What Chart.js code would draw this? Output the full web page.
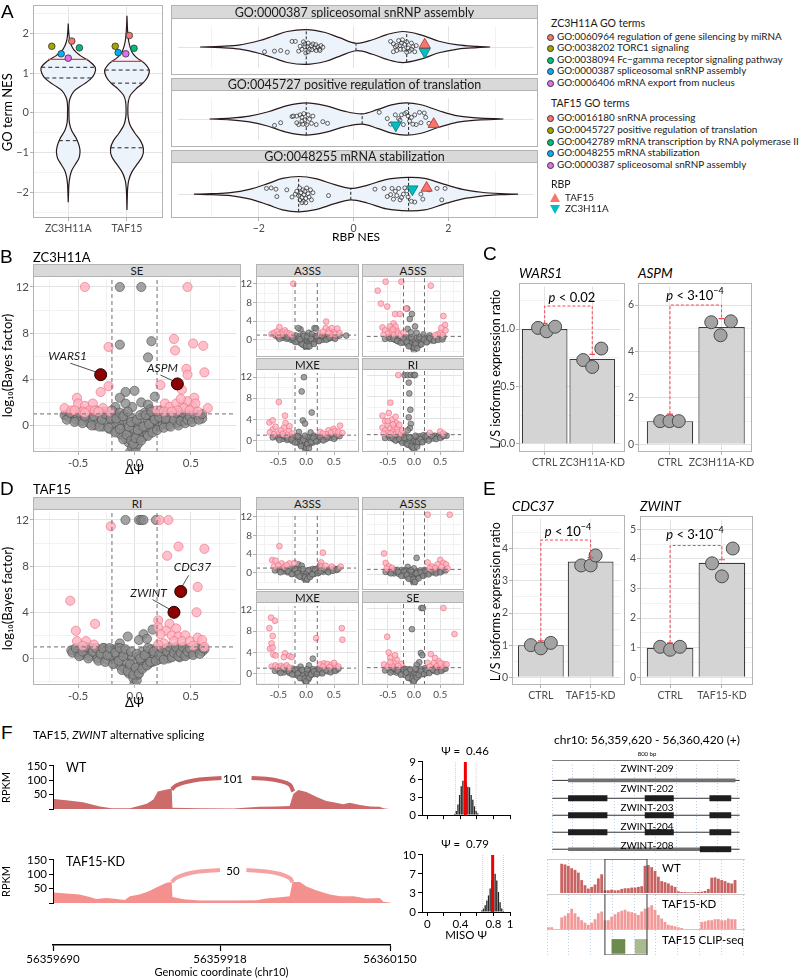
<!DOCTYPE html>
<html>
<head>
<meta charset="utf-8">
<script src="https://cdn.jsdelivr.net/npm/chart.js@4.4.1/dist/chart.umd.min.js"></script>
<style>
  body { margin: 0; background: #fff; font-family: Lato, 'DejaVu Sans', sans-serif; }
  #page { position: relative; width: 800px; height: 980px; overflow: hidden; background: #fff; }
  .txt { position: absolute; white-space: nowrap; line-height: 1; color: #1a1a1a; }
  .strip { position: absolute; box-sizing: border-box; background: #D9D9D9; border: 1px solid #B3B3B3; color: #1a1a1a; font-size: 11px; display: flex; align-items: center; justify-content: center; }
  .frame { position: absolute; box-sizing: border-box; border: 1px solid #B3B3B3; pointer-events: none; }
  .letter { position: absolute; font-family: 'Liberation Sans', Arial, sans-serif; font-size: 19px; line-height: 1; color: #000; }
  .tri { position: absolute; width: 0; height: 0; border-left: 5px solid transparent; border-right: 5px solid transparent; }
</style>
</head>
<body>
<div id="page"></div>
<script>
// ---------- Panel A: GO term NES ----------
const rbpNames = ['ZC3H11A', 'TAF15'];
const goColors = ['#F8766D', '#A3A500', '#00BF7D', '#00B0F6', '#E76BF3'];
const zcGoTerms = ['GO:0060964 regulation of gene silencing by miRNA', 'GO:0038202 TORC1 signaling', 'GO:0038094 Fc\u2212gamma receptor signaling pathway', 'GO:0000387 spliceosomal snRNP assembly', 'GO:0006406 mRNA export from nucleus'];
const tafGoTerms = ['GO:0016180 snRNA processing', 'GO:0045727 positive regulation of translation', 'GO:0042789 mRNA transcription by RNA polymerase II', 'GO:0048255 mRNA stabilization', 'GO:0000387 spliceosomal snRNP assembly'];

const zcViolinNes = [2.25, 2.0, 1.8, 1.6, 1.45, 1.3, 1.15, 1.0, 0.85, 0.7, 0.55, 0.4, 0.25, 0.0, -0.25, -0.45, -0.65, -0.85, -1.0, -1.15, -1.3, -1.45, -1.6, -1.8, -2.0, -2.25];
const zcViolinHalf = [0, 0.01, 0.03, 0.09, 0.2, 0.36, 0.46, 0.45, 0.38, 0.24, 0.1, 0.04, 0.015, 0.012, 0.02, 0.06, 0.14, 0.19, 0.2, 0.18, 0.12, 0.06, 0.03, 0.012, 0.006, 0];
const tafViolinNes = [2.45, 2.1, 1.8, 1.55, 1.4, 1.25, 1.07, 0.9, 0.75, 0.6, 0.45, 0.3, 0.1, -0.1, -0.3, -0.5, -0.7, -0.9, -1.1, -1.3, -1.5, -1.7, -1.9, -2.1, -2.45];
const tafViolinHalf = [0, 0.01, 0.03, 0.08, 0.16, 0.3, 0.38, 0.35, 0.27, 0.15, 0.06, 0.025, 0.015, 0.02, 0.05, 0.13, 0.23, 0.28, 0.26, 0.17, 0.08, 0.03, 0.012, 0.006, 0];
const zcQuantiles = [[1.15, 0.46], [0.88, 0.39], [-0.7, 0.16]];
const tafQuantiles = [[1.08, 0.38], [0.75, 0.27], [-0.88, 0.28]];
const zcRbpNes = [1.35, 0.34];
const tafRbpNes = [1.3, 0.27];
const zcGoNes = [1.81, 1.68, 1.64, 1.49, 1.38];
const zcGoJitter = [1.06, 0.72, 1.19, 0.88, 1.0];
const tafGoNes = [1.95, 1.68, 1.63, 1.52, 1.49];
const tafGoJitter = [2.04, 1.8, 2.12, 1.85, 1.98];

const facetTitles = ['GO:0000387 spliceosomal snRNP assembly', 'GO:0045727 positive regulation of translation', 'GO:0048255 mRNA stabilization'];
const facetNes = [
  [-3.24, -2.8, -2.4, -2.0, -1.7, -1.4, -1.0, -0.6, -0.3, 0.06, 0.4, 0.7, 1.04, 1.4, 1.8, 2.2, 2.6, 2.88],
  [-3.04, -2.6, -2.2, -1.8, -1.4, -1.0, -0.6, -0.2, 0.18, 0.5, 0.8, 1.1, 1.4, 1.8, 2.2, 2.6, 3.16],
  [-3.37, -3.0, -2.6, -2.2, -1.8, -1.5, -1.15, -0.8, -0.4, -0.06, 0.3, 0.7, 1.15, 1.5, 1.9, 2.3, 2.7, 3.1, 3.47]
];
const facetHalf = [
  [0, 0.03, 0.1, 0.3, 0.52, 0.75, 0.84, 0.7, 0.45, 0.18, 0.35, 0.6, 0.75, 0.6, 0.28, 0.1, 0.03, 0],
  [0, 0.04, 0.14, 0.35, 0.65, 0.78, 0.65, 0.38, 0.25, 0.45, 0.68, 0.78, 0.7, 0.4, 0.15, 0.05, 0],
  [0, 0.02, 0.06, 0.2, 0.45, 0.66, 0.74, 0.65, 0.4, 0.24, 0.38, 0.62, 0.7, 0.66, 0.42, 0.2, 0.08, 0.02, 0]
];
const facetMedians = [
  [[-1.0, 0.84], [0.05, 0.18], [1.12, 0.73]],
  [[-1.0, 0.78], [0.18, 0.25], [1.16, 0.77]],
  [[-1.16, 0.74], [-0.06, 0.24], [1.16, 0.7]]
];
const facetTermNes = [
  [-1.88,-0.23, -1.67,-0.2, -1.54,-0.17, -1.40,-0.25, -1.30,0.27, -1.23,0.27, -1.16,-0.2, -1.09,-0.11, -1.06,0.25, -1.03,0.15, -1.01,-0.29, -0.98,0.01, -0.96,-0.23, -0.93,-0.11, -0.89,0.07, -0.86,0.15, -0.82,-0.05, -0.79,-0.17, -0.76,0.01, -0.72,-0.11, -0.69,0.07, -0.65,-0.01, -1.03,0.01, -0.96,0.19, -1.13,0.04, -0.71,-0.17, -0.88,-0.13, -0.80,0.11,
   0.78,0.27, 0.84,0.15, 0.88,0.01, 0.91,-0.17, 0.95,0.31, 0.98,0.07, 1.01,0.19, 1.05,-0.11, 1.08,0.13, 1.12,0.25, 1.15,-0.05, 1.18,-0.2, 1.22,0.19, 1.25,0.01, 1.29,-0.23, 1.32,0.07, 0.91,0.07, 0.99,-0.11, 1.12,-0.25, 1.03,0.35, 0.84,-0.23, 1.22,-0.11],
  [-1.67,-0.31, -1.54,-0.18, -1.30,0.12, -1.27,0.14, -1.20,0.14, -1.16,-0.27, -1.13,0.2, -1.09,0.08, -1.07,-0.25, -1.05,0.26, -1.03,-0.04, -0.99,-0.27, -0.96,0.2, -0.93,-0.01, -0.89,-0.21, -0.86,0.14, -0.79,-0.27, -0.65,-0.13, -0.55,-0.21, -1.20,-0.18, -1.09,-0.1,
   0.54,0.32, 0.71,0.02, 0.88,0.2, 0.91,-0.27, 0.95,0.02, 1.01,0.2, 1.05,-0.27, 1.08,0.26, 1.12,0.32, 1.15,0.14, 1.18,-0.1, 1.22,0.08, 1.29,0.2, 1.32,-0.27, 1.39,0.32, 1.42,-0.18, 1.49,0.29, 1.52,0.08, 1.59,-0.21, 0.78,-0.25, 0.98,-0.06, 1.25,-0.25],
  [-1.84,0.24, -1.74,0.26, -1.64,0.21, -1.62,-0.1, -1.41,0.18, -1.30,-0.12, -1.23,0, -1.20,0.12, -1.16,-0.06, -1.14,0.26, -1.13,-0.24, -1.11,0.06, -1.09,-0.14, -1.07,0.18, -1.06,-0.3, -1.05,-0.02, -1.03,0.12, -1.01,-0.18, -0.99,0.26, -0.96,0.02, -0.94,-0.12, -0.91,0.18, -0.89,-0.24, -0.86,0.06, -0.53,-0.06, -1.09,-0.36, -1.01,-0.36,
   0.45,0.21, 0.64,0.24, 0.71,-0.1, 0.78,-0.02, 0.81,0.24, 0.84,-0.21, 0.91,-0.06, 0.95,0.24, 0.98,-0.24, 1.05,0.0, 1.08,0.26, 1.12,0.14, 1.15,-0.12, 1.22,-0.3, 1.29,-0.33, 1.42,0.0, 1.46,-0.21, 1.59,0.18, 1.76,0.24, 1.86,-0.24, 1.93,0.24, 0.88,0.12, 1.01,-0.14]
];
const facetTafRbp = [[1.5, 0.11], [1.69, -0.25], [1.54, 0.26]];
const facetZcRbp = [[1.5, -0.23], [0.89, -0.3], [1.24, 0.21]];

// ---------- Panels B / D: volcano (dPsi, log10 Bayes factor) ----------
const zcSeGray = [-0.13,12, 0.06,12, -0.13,7.0, 0.15,7.3, 0.12,5.9, 0.0,3.0, -0.08,2.9, -0.13,2.4, 0.06,2.0, 0.18,2.5, -0.02,1.6, -0.08,1.9, 0.12,1.8, -0.17,1.6, 0.14,1.4, 0.55,0.9, 0.6,0.6, -0.6,0.9, 0.0,-2.3, -0.04,-2.3,
  -0.62,0.9, -0.58,0.7, -0.55,1.0, -0.52,0.5, -0.5,0.8, -0.47,0.4, -0.45,1.0, -0.43,0.6, -0.4,0.2, -0.4,0.9, -0.37,0.5, -0.35,0.0, -0.33,1.1, -0.32,0.3, -0.3,0.7, -0.28,-0.1, -0.27,1.2, -0.25,0.4, -0.24,0.9, -0.22,-0.3, -0.2,0.1, -0.19,0.6, -0.18,1.1, -0.16,-0.5, -0.15,0.3, -0.14,0.8, -0.12,-0.8, -0.11,0.0, -0.1,0.5, -0.09,1.0, -0.08,-1.1, -0.07,-0.4, -0.06,0.2, -0.05,-1.5, -0.04,0.7, -0.03,-0.9, -0.02,-1.9, -0.01,-0.3, 0.0,-1.4, 0.0,0.3, 0.01,-2.0, 0.02,-0.8, 0.03,-1.6, 0.04,0.0, 0.05,-1.1, 0.06,0.6, 0.07,-0.5, 0.08,-1.0, 0.09,1.1, 0.1,-0.2, 0.11,-0.8, 0.12,0.4, 0.13,0.9, 0.14,-0.5, 0.16,0.1, 0.17,0.7, 0.18,-0.3, 0.2,0.3, 0.21,1.0, 0.22,-0.1, 0.24,0.6, 0.25,0.1, 0.27,0.9, 0.28,0.3, 0.3,0.0, 0.31,0.6, 0.33,1.1, 0.34,0.3, 0.36,0.8, 0.38,0.2, 0.4,0.6, 0.42,0.9, 0.44,0.4, 0.46,0.7, 0.48,1.0, 0.5,0.5, 0.52,0.8, 0.55,0.6, 0.58,0.9,
  -0.6,0.5, -0.57,1.1, -0.53,0.3, -0.49,1.1, -0.46,0.2, -0.44,0.8, -0.41,1.2, -0.38,0.0, -0.36,0.8, -0.34,1.3, -0.31,-0.1, -0.29,0.5, -0.26,1.0, -0.23,-0.2, -0.21,0.6, -0.2,1.3, -0.17,-0.6, -0.16,0.6, -0.13,-0.3, -0.13,1.1, -0.1,-1.2, -0.1,0.8, -0.07,-0.8, -0.06,1.2, -0.05,-0.1, -0.03,-1.3, -0.03,0.3, -0.01,-1.6, 0.01,-1.1, 0.02,0.5, 0.03,-0.4, 0.05,0.9, 0.06,-1.3, 0.08,-0.1, 0.1,0.9, 0.12,-0.9, 0.13,0.1, 0.15,1.2, 0.16,-0.6, 0.18,0.5, 0.2,-0.4, 0.22,0.7, 0.23,1.3, 0.26,-0.2, 0.28,0.6, 0.29,1.2, 0.32,-0.1, 0.35,0.5, 0.37,1.1, 0.39,0.0, 0.41,0.4, 0.43,1.1, 0.45,0.2, 0.47,0.5, 0.49,0.8, 0.51,0.3, 0.53,1.0, 0.57,0.5, 0.6,1.0];
const zcSePink = [-0.44,12, 0.47,12, -0.23,6.8, 0.35,7.5, 0.36,6.5, 0.52,7.1, 0.61,6.9, 0.46,4.9, 0.62,4.6, 0.47,4.4, 0.23,3.5, 0.42,3.1, -0.23,3.4, -0.3,2.9, -0.51,2.4, 0.53,2.4, -0.62,1.5, -0.56,1.3, -0.5,1.9, -0.44,1.7, -0.37,1.9, -0.46,1.2, -0.4,1.3, -0.35,1.3, 0.2,1.3, 0.27,1.9, 0.31,1.6, 0.37,1.9, 0.43,1.7, 0.47,2.1, 0.52,1.6, 0.54,1.9, 0.65,1.5, 0.44,1.5, 0.38,1.3, 0.26,1.2, -0.53,1.3, -0.22,1.2, -0.44,1.1, -0.28,1.5, -0.32,1.2, 0.49,1.3, 0.56,1.2, 0.41,2.3, 0.33,1.2];
const zcSeHighlight = [-0.3,4.4, 0.38,3.6];
const zcSeLabels = [['WARS1', -0.6, 5.9], ['ASPM', 0.22, 4.9]];
const zcSeLeaders = [[-0.57,5.4, -0.32,4.56], [0.23,4.37, 0.36,3.78]];

const zcA3Gray = [-0.55,0.9, -0.5,0.6, -0.45,0.9, -0.42,0.4, -0.38,0.7, -0.35,0.2, -0.32,0.9, -0.3,0.4, -0.27,0.0, -0.25,0.7, -0.22,-0.2, -0.2,0.3, -0.18,0.9, -0.16,-0.4, -0.14,0.2, -0.12,0.7, -0.1,-0.7, -0.08,-0.1, -0.06,0.5, -0.05,-1.1, -0.03,-0.4, -0.02,0.3, -0.01,-1.5, 0.0,-0.8, 0.01,-1.9, 0.02,-0.2, 0.03,-1.2, 0.04,0.4, 0.05,-0.6, 0.07,0.0, 0.08,-0.9, 0.1,0.6, 0.11,-0.3, 0.13,0.2, 0.15,-0.5, 0.16,0.8, 0.18,0.0, 0.2,0.5, 0.22,-0.2, 0.24,0.9, 0.26,0.2, 0.28,0.6, 0.3,0.0, 0.33,0.8, 0.35,0.3, 0.38,0.6, 0.4,0.2, 0.43,0.8, 0.45,0.4, 0.48,0.9, 0.5,0.5, 0.55,0.8, 0.6,0.9, 0.72,0.9, -0.1,2.2, 0.05,1.5, 0.1,1.2, 0.15,2.5, -0.14,2.5, 0.18,2.4, -0.05,1.2,
  -0.48,0.2, -0.4,1.0, -0.33,0.5, -0.24,0.3, -0.19,-0.5, -0.11,0.1, -0.07,-1.0, -0.04,0.8, 0.0,-1.3, 0.02,0.7, 0.06,-1.4, 0.09,0.2, 0.14,-0.9, 0.19,0.8, 0.23,-0.3, 0.29,0.9, 0.36,0.0, 0.42,0.5, 0.52,0.2];
const zcA3Pink = [-0.62,1.2, -0.57,1.5, -0.52,1.8, -0.48,2.7, -0.45,1.2, -0.42,1.6, -0.38,2.0, -0.35,1.5, -0.3,1.3, -0.26,1.1, -0.5,1.1, -0.23,12, 0.36,3.9, 0.35,2.5, 0.41,2.0, 0.46,2.5, 0.5,1.6, 0.56,2.4, 0.25,1.3, 0.3,1.7, 0.45,1.2, 0.52,1.2, 0.4,1.4, 0.6,1.4];
const zcA5Gray = [-0.04,5.5, -0.13,6.6, -0.08,4.5, 0.02,3.0, -0.12,2.5, -0.06,1.8, 0.05,1.7, -0.5,0.8, -0.45,0.5, -0.4,0.9, -0.36,0.3, -0.33,0.7, -0.3,0.0, -0.27,0.5, -0.24,0.9, -0.21,-0.2, -0.18,0.4, -0.15,0.8, -0.13,-0.5, -0.11,0.1, -0.09,0.6, -0.07,-0.9, -0.05,-0.2, -0.03,0.4, -0.02,-1.3, 0.0,-1.8, 0.01,-0.6, 0.02,0.2, 0.04,-1.0, 0.05,0.7, 0.07,-0.4, 0.09,0.2, 0.11,-0.7, 0.13,0.5, 0.15,-0.2, 0.17,0.9, 0.2,0.1, 0.23,0.6, 0.25,-0.1, 0.28,0.4, 0.31,0.9, 0.33,0.2, 0.36,0.6, 0.39,0.3, 0.42,0.8, 0.45,0.5, 0.48,0.9, 0.52,0.6, 0.56,0.9, 0.3,1.2, 0.18,1.4,
  -0.55,0.5, -0.47,0.9, -0.39,0.5, -0.32,0.1, -0.25,-0.3, -0.2,0.6, -0.14,-0.1, -0.1,-1.0, -0.05,0.8, 0.0,-1.2, 0.03,-0.5, 0.06,-1.4, 0.1,0.8, 0.14,-0.6, 0.19,0.4, 0.24,-0.2, 0.3,0.6, 0.38,0.1, 0.46,0.3, 0.54,0.4];
const zcA5Pink = [-0.54,12, -0.24,12, 0.32,11.2, -0.69,10.2, -0.63,7.6, -0.51,7.0, -0.36,5.5, -0.27,5.5, -0.15,6.6, 0.56,5.1, 0.59,3.3, 0.5,1.7, -0.39,3.6, -0.6,2.8, -0.55,2.2, -0.5,1.6, -0.45,2.5, -0.42,1.9, -0.38,1.4, -0.33,2.2, -0.3,1.6, -0.25,1.3, -0.2,1.8, -0.46,3.0, -0.35,3.0, -0.58,1.3, 0.45,1.4, 0.4,1.2, 0.55,1.3, 0.6,2.2, 0.52,2.7, -0.4,2.4];
const zcMxeGray = [-0.04,12, -0.08,9.3, -0.06,3.8, -0.02,3.2, 0.1,5.3, 0.08,1.5, -0.13,1.6, -0.55,0.8, -0.5,0.5, -0.46,0.9, -0.42,0.3, -0.38,0.7, -0.34,0.1, -0.31,0.6, -0.28,0.9, -0.25,-0.1, -0.22,0.4, -0.19,0.8, -0.16,-0.4, -0.14,0.2, -0.12,0.6, -0.1,-0.8, -0.08,-0.2, -0.06,0.4, -0.04,-1.2, -0.02,-0.5, -0.01,-1.8, 0.0,0.1, 0.01,-1.0, 0.03,-0.3, 0.04,0.6, 0.06,-0.7, 0.08,0.0, 0.1,0.5, 0.12,-0.4, 0.14,0.9, 0.16,0.1, 0.19,0.6, 0.21,-0.1, 0.24,0.4, 0.27,0.9, 0.3,0.2, 0.33,0.6, 0.36,0.3, 0.4,0.8, 0.44,0.5, 0.48,0.8, 0.52,0.6, 0.56,0.9,
  -0.6,0.6, -0.48,0.1, -0.4,0.9, -0.33,0.4, -0.26,0.2, -0.2,-0.4, -0.15,0.8, -0.09,-1.1, -0.05,0.1, -0.02,0.9, 0.0,-1.4, 0.02,-0.7, 0.05,-1.5, 0.09,-0.3, 0.13,0.5, 0.18,-0.2, 0.25,0.7, 0.31,0.0, 0.38,0.6, 0.5,0.3, 0.6,0.8];
const zcMxePink = [-0.49,7.3, -0.66,3.4, -0.6,3.8, -0.38,4.7, -0.37,3.3, -0.4,2.4, -0.6,2.1, -0.49,1.4, -0.31,1.8, -0.25,1.3, -0.35,1.1, -0.55,2.6, -0.45,1.9, -0.42,1.2, -0.65,1.5, -0.58,1.2, -0.3,2.7, 0.4,1.9, 0.49,2.2, 0.61,2.8, 0.25,1.6, 0.55,1.3, 0.36,1.2, 0.3,1.3, 0.45,1.5, 0.52,1.8, 0.58,1.6, 0.65,1.4];
const zcRiGray = [-0.18,12, -0.12,12, -0.06,12, 0.0,12, 0.02,12, -0.1,10.6, -0.09,8.6, -0.07,5.6, -0.1,4.2, -0.06,3.0, -0.08,2.2, -0.12,1.8, -0.5,0.8, -0.46,0.4, -0.42,0.9, -0.39,0.2, -0.36,0.7, -0.33,0.0, -0.3,0.5, -0.27,0.9, -0.24,-0.2, -0.21,0.3, -0.19,0.8, -0.16,-0.5, -0.14,0.1, -0.12,0.6, -0.1,-0.9, -0.08,-0.2, -0.06,0.4, -0.04,-1.3, -0.02,-0.5, 0.0,-1.9, 0.01,0.0, 0.02,-1.0, 0.04,-0.3, 0.05,0.5, 0.07,-0.7, 0.09,0.1, 0.11,0.7, 0.13,-0.3, 0.15,0.3, 0.18,0.9, 0.2,0.0, 0.23,0.5, 0.26,0.9, 0.29,0.2, 0.32,0.6, 0.36,0.3, 0.4,0.8, 0.44,0.5, 0.48,0.9, 0.53,0.6, 0.58,0.9, 0.62,0.8,
  -0.55,0.4, -0.48,0.9, -0.41,0.4, -0.35,-0.1, -0.28,0.2, -0.22,-0.5, -0.18,0.4, -0.13,-0.8, -0.09,0.5, -0.05,-1.1, -0.01,-1.4, 0.03,0.8, 0.06,-1.2, 0.08,-0.3, 0.12,0.2, 0.16,-0.4, 0.22,0.7, 0.28,-0.1, 0.34,0.8, 0.42,0.2, 0.5,0.4, 0.56,0.8];
const zcRiPink = [-0.3,12, -0.45,6.9, -0.33,3.1, -0.6,4.5, -0.55,3.5, -0.5,2.8, -0.6,2.3, -0.55,1.8, -0.5,1.4, -0.45,2.2, -0.42,3.8, -0.4,1.6, -0.38,2.5, -0.35,1.2, -0.32,2.0, -0.3,1.5, -0.28,2.8, -0.25,1.2, -0.22,1.8, -0.45,1.2, -0.58,1.2, -0.5,3.5, -0.4,2.9, -0.35,4.3, -0.48,5.0, 0.5,1.6, 0.56,1.2, 0.3,1.3];

const tafRiGray = [-0.08,12, 0.04,12, 0.06,12, 0.08,12, 0.19,12, 0.16,2.5, -0.06,1.9, 0.08,2.1, -0.56,0.7, -0.5,0.4, 0.0,-2.2, 0.62,0.8, 0.04,1.6, 0.11,1.7, -0.13,1.3,
  -0.5,0.6, -0.47,0.3, -0.45,0.8, -0.42,0.5, -0.4,0.2, -0.38,0.9, -0.35,0.4, -0.33,0.0, -0.31,0.7, -0.29,0.2, -0.27,0.9, -0.25,-0.1, -0.23,0.5, -0.21,0.1, -0.2,0.8, -0.18,-0.4, -0.16,0.3, -0.15,0.9, -0.13,-0.6, -0.12,0.0, -0.1,0.5, -0.09,-0.9, -0.07,-0.3, -0.06,0.3, -0.05,-1.3, -0.03,-0.7, -0.02,0.1, -0.01,-1.7, 0.0,-1.1, 0.01,-0.4, 0.02,-1.9, 0.03,-1.4, 0.04,0.2, 0.05,-0.9, 0.06,-0.3, 0.07,0.6, 0.08,-0.7, 0.1,-0.1, 0.11,0.4, 0.12,-0.5, 0.14,0.1, 0.15,0.8, 0.16,-0.3, 0.18,0.3, 0.2,0.9, 0.21,-0.1, 0.23,0.5, 0.25,0.0, 0.27,0.8, 0.28,0.3, 0.3,0.0, 0.32,0.6, 0.34,0.2, 0.36,0.9, 0.38,0.4, 0.4,0.1, 0.42,0.7, 0.44,0.3, 0.46,0.8, 0.48,0.4, 0.5,0.7, 0.53,0.5, 0.56,0.8, 0.6,0.6,
  -0.55,0.5, -0.52,0.9, -0.49,0.2, -0.46,0.6, -0.43,1.0, -0.41,0.0, -0.37,0.6, -0.34,0.9, -0.32,-0.2, -0.3,0.4, -0.28,0.9, -0.26,-0.3, -0.24,0.3, -0.22,0.9, -0.19,-0.5, -0.17,0.5, -0.14,-0.2, -0.13,0.9, -0.11,-1.0, -0.1,0.2, -0.08,0.8, -0.06,-1.1, -0.04,-0.5, -0.03,0.6, -0.01,-1.4, 0.01,-0.8, 0.02,0.4, 0.04,-1.3, 0.05,0.0, 0.07,-0.9, 0.09,0.3, 0.11,-0.6, 0.12,0.9, 0.14,-0.3, 0.17,0.6, 0.19,-0.2, 0.22,0.3, 0.24,0.9, 0.26,-0.1, 0.29,0.6, 0.31,1.0, 0.33,0.1, 0.35,0.5, 0.37,1.0, 0.39,0.2, 0.41,0.5, 0.43,1.0, 0.45,0.2, 0.47,0.6, 0.49,0.9, 0.52,0.3, 0.55,0.9, 0.58,0.4, 0.61,0.9];
const tafRiPink = [-0.21,11.45, 0.22,12, 0.30,12, 0.39,9.7, 0.29,8.9, 0.62,9.5, 0.56,6.2, 0.55,4.0, -0.57,5.0, -0.35,3.0, -0.52,2.4, -0.51,1.5, -0.43,1.5, -0.46,1.1, -0.36,1.2, 0.21,3.3, 0.21,2.7, 0.31,3.0, 0.28,2.4, 0.37,2.6, 0.23,2.1, 0.33,2.0, 0.39,1.9, 0.45,2.0, 0.26,1.3, 0.35,1.5, 0.42,1.5, 0.49,1.5, 0.56,1.8, 0.6,1.6, 0.52,1.1, 0.21,1.2, 0.62,1.0];
const tafRiHighlight = [0.35,4.0, 0.41,5.8];
const tafRiLabels = [['CDC37', 0.48, 7.8], ['ZWINT', 0.1, 5.6]];
const tafRiLeaders = [[0.48,7.2, 0.42,6.2], [0.16,5.1, 0.33,4.16]];

const tafA3Gray = [-0.14,1.8, -0.08,1.5, 0.25,1.6, -0.52,0.8, -0.48,0.5, -0.44,0.9, -0.4,0.3, -0.36,0.7, -0.33,0.1, -0.3,0.6, -0.27,0.9, -0.24,-0.2, -0.21,0.4, -0.18,0.8, -0.16,-0.5, -0.13,0.1, -0.11,0.6, -0.09,-0.9, -0.07,-0.2, -0.05,0.4, -0.03,-1.3, -0.01,-0.6, 0.0,-1.9, 0.01,0.1, 0.03,-1.0, 0.05,-0.3, 0.06,0.6, 0.08,-0.6, 0.1,0.1, 0.12,0.8, 0.14,-0.3, 0.17,0.4, 0.2,0.9, 0.22,0.0, 0.25,0.5, 0.28,0.9, 0.31,0.2, 0.34,0.6, 0.38,0.3, 0.42,0.8, 0.46,0.5, 0.5,0.9, 0.54,0.6, 0.58,0.9,
  -0.56,0.5, -0.46,0.1, -0.38,0.9, -0.32,0.3, -0.26,-0.3, -0.2,0.7, -0.15,-0.1, -0.12,-0.8, -0.06,0.8, -0.02,-1.0, 0.02,-1.4, 0.04,0.5, 0.07,-0.9, 0.11,-0.3, 0.16,0.7, 0.21,-0.1, 0.26,0.3, 0.32,0.8, 0.4,0.1, 0.48,0.4, 0.56,0.7];
const tafA3Pink = [-0.48,5.7, -0.61,2.7, -0.55,2.6, -0.44,2.0, -0.3,2.0, -0.21,2.1, -0.58,1.3, -0.39,1.3, -0.5,1.5, -0.35,1.6, 0.3,4.3, 0.27,2.2, 0.46,1.3, 0.62,1.3, 0.27,1.3, 0.35,1.5];
const tafA5Gray = [-0.12,1.5, 0.0,1.2, 0.05,3.3, -0.5,0.8, -0.46,0.4, -0.42,0.8, -0.38,0.2, -0.35,0.6, -0.32,0.9, -0.29,0.1, -0.26,0.5, -0.23,0.9, -0.2,-0.2, -0.17,0.4, -0.15,0.8, -0.13,-0.5, -0.11,0.2, -0.09,0.7, -0.07,-0.8, -0.05,-0.1, -0.03,0.5, -0.02,-1.4, 0.0,-1.9, 0.01,-0.5, 0.03,0.2, 0.04,-1.0, 0.06,0.6, 0.08,-0.4, 0.1,0.1, 0.12,0.8, 0.15,-0.2, 0.17,0.4, 0.2,0.9, 0.23,0.1, 0.26,0.6, 0.29,0.3, 0.33,0.8, 0.36,0.4, 0.4,0.9, 0.44,0.5, 0.48,0.8, 0.52,0.6, 0.57,0.9,
  -0.54,0.5, -0.44,0.2, -0.37,0.9, -0.3,0.5, -0.24,-0.3, -0.19,0.7, -0.14,-0.1, -0.1,-0.9, -0.06,0.8, -0.01,-1.0, 0.02,-1.5, 0.05,0.2, 0.09,-0.8, 0.13,0.4, 0.18,-0.3, 0.22,0.7, 0.28,0.0, 0.35,0.6, 0.42,0.2, 0.5,0.4, 0.6,0.8];
const tafA5Pink = [0.26,12, 0.68,12, -0.57,4.2, 0.5,2.9, 0.56,2.3, 0.61,2.0, 0.45,2.0, 0.34,1.6, 0.26,2.4, -0.54,2.3, -0.48,1.6, -0.42,1.3, 0.4,1.3, 0.52,1.5, 0.3,1.2, 0.64,1.2, -0.52,1.2];
const tafMxeGray = [0.12,2.8, 0.05,1.5, -0.1,1.3, -0.52,0.8, -0.48,0.4, -0.44,0.9, -0.4,0.2, -0.36,0.6, -0.33,0.9, -0.3,0.1, -0.27,0.5, -0.24,0.9, -0.21,-0.2, -0.18,0.3, -0.16,0.8, -0.14,-0.5, -0.12,0.1, -0.1,0.6, -0.08,-0.9, -0.06,-0.2, -0.04,0.4, -0.02,-1.4, 0.0,-1.9, 0.01,-0.6, 0.03,0.1, 0.04,-1.1, 0.06,0.5, 0.08,-0.4, 0.1,0.2, 0.12,0.8, 0.15,-0.1, 0.18,0.4, 0.21,0.9, 0.24,0.1, 0.27,0.6, 0.3,0.3, 0.34,0.8, 0.38,0.4, 0.42,0.9, 0.46,0.5, 0.5,0.8, 0.54,0.6,
  -0.56,0.5, -0.46,0.1, -0.38,0.9, -0.31,0.4, -0.25,-0.2, -0.2,0.7, -0.15,0.0, -0.11,-0.9, -0.07,0.7, -0.03,-1.0, 0.0,-1.5, 0.02,0.8, 0.05,-0.8, 0.09,-0.2, 0.14,0.4, 0.19,-0.1, 0.23,0.8, 0.29,0.0, 0.36,0.6, 0.44,0.2, 0.52,0.5, 0.58,0.9];
const tafMxePink = [-0.63,10.6, -0.56,10.0, -0.66,8.6, -0.6,7.1, -0.62,5.7, -0.65,4.7, -0.6,4.9, -0.59,3.6, -0.55,3.4, -0.38,3.8, -0.4,3.1, -0.3,3.3, -0.26,3.1, 0.18,6.7, 0.64,8.6, 0.65,6.4, 0.25,1.7, 0.32,1.9, 0.38,1.8, 0.45,1.6, 0.52,1.5, 0.58,1.3, 0.42,1.2, -0.62,1.3, -0.55,1.5, -0.5,1.2, -0.45,1.4, -0.4,1.2, -0.35,1.5, -0.3,1.1, 0.3,1.3, 0.5,2.0];
const tafSeGray = [0.14,12, 0.17,12, -0.04,8.1, 0.13,3.7, 0.16,3.3, 0.1,2.0, 0.05,1.5, -0.5,0.8, -0.46,0.5, -0.42,0.9, -0.39,0.3, -0.36,0.7, -0.33,0.1, -0.3,0.6, -0.27,0.9, -0.24,-0.1, -0.21,0.4, -0.18,0.8, -0.16,-0.4, -0.14,0.2, -0.12,0.7, -0.1,-0.8, -0.08,-0.2, -0.06,0.4, -0.04,-1.2, -0.02,-0.5, -0.01,-1.8, 0.01,0.1, 0.02,-1.1, 0.04,-0.3, 0.06,0.6, 0.08,-0.6, 0.1,0.1, 0.12,0.8, 0.15,-0.2, 0.18,0.4, 0.21,0.9, 0.24,0.1, 0.27,0.6, 0.3,0.3, 0.34,0.8, 0.38,0.4, 0.42,0.9, 0.46,0.5, 0.5,0.8, 0.54,0.6, 0.58,0.9,
  -0.55,0.5, -0.45,0.1, -0.38,0.9, -0.31,0.4, -0.25,-0.3, -0.2,0.7, -0.15,0.1, -0.11,-0.9, -0.07,0.7, -0.03,-1.0, 0.0,-1.4, 0.03,0.8, 0.05,-0.8, 0.09,-0.3, 0.13,0.4, 0.19,-0.2, 0.23,0.6, 0.29,0.0, 0.36,0.6, 0.44,0.2, 0.52,0.4, 0.6,0.8];
const tafSePink = [0.56,12, 0.77,7.2, -0.51,6.7, -0.48,3.8, -0.45,2.8, -0.33,2.5, -0.39,1.9, -0.24,1.7, -0.57,1.6, -0.3,1.3, -0.5,1.2, -0.42,1.4, -0.36,3.3, 0.32,3.5, 0.26,1.9, 0.38,1.9, 0.47,2.2, 0.56,1.7, 0.62,1.6, 0.44,1.3, 0.3,1.2, 0.52,1.3, 0.4,2.8, -0.45,2.0, 0.5,1.8];

// ---------- Panels C / E: L/S isoform ratio ----------
const wars1Bars = [1.0, 0.74];
const wars1Ctrl = [0.86,1.01, 1.04,0.98, 1.22,1.02];
const wars1Kd = [1.81,0.73, 2.0,0.67, 2.19,0.83];
const wars1Bracket = [1.05, 1.2, 0.78];
const aspmBars = [1.0, 5.05];
const aspmCtrl = [0.81,1.0, 0.99,1.0, 1.17,1.0];
const aspmKd = [1.8,5.26, 1.98,4.7, 2.18,5.3];
const aspmBracket = [1.3, 6.0, 5.42];
const cdc37Bars = [1.0, 3.6];
const cdc37Ctrl = [0.8,1.0, 1.0,0.9, 1.2,1.07];
const cdc37Kd = [1.81,3.48, 2.0,3.48, 2.1,3.79];
const cdc37Bracket = [1.13, 4.27, 3.72];
const zwintBars = [1.0, 3.87];
const zwintCtrl = [0.81,1.03, 1.0,0.93, 1.19,1.03];
const zwintKd = [1.81,3.85, 2.0,3.41, 2.21,4.35];
const zwintBracket = [1.16, 4.45, 3.97];

// ---------- Panel F: ZWINT coverage ----------
const genomicStart = 56359690;
const genomicTicks = [0, 228, 460];
const wtCovPos = [1, 18, 41, 64, 80, 105, 114, 128, 137, 143, 155, 162, 163, 200, 246, 282, 305, 323, 328, 335, 346, 360, 373, 383, 396, 405, 419, 433, 446, 451, 460];
const wtCovVal = [35, 31, 24, 9, 3, 3, 9, 19, 33, 61, 68, 71, 5, 3, 2, 8, 9, 11, 52, 66, 59, 42, 28, 24, 17, 22, 14, 9, 8, 3, 0];
const kdCovPos = [1, 18, 36, 50, 59, 73, 87, 98, 105, 118, 130, 141, 155, 162, 163, 178, 200, 246, 278, 291, 314, 323, 327, 337, 346, 360, 378, 392, 410, 428, 446, 451, 460];
const kdCovVal = [37, 33, 30, 21, 14, 18, 14, 11, 24, 30, 40, 54, 71, 73, 21, 13, 9, 9, 10, 16, 21, 24, 73, 73, 58, 44, 30, 24, 24, 16, 18, 5, 2];
const wtJunctionPos = [162, 168, 182, 200, 230, null, 271, 291, 310, 323, 328];
const wtJunctionVal = [68, 82, 94, 103, 108, null, 108, 105, 97, 85, 61];
const kdJunctionPos = [162, 168, 182, 200, 228, null, 264, 291, 310, 323, 327];
const kdJunctionVal = [73, 87, 101, 110, 115, null, 115, 110, 101, 87, 73];
const junctionReads = ['101', '50'];

const wtPsiBins = [0.33, 0.35, 0.37, 0.39, 0.41, 0.43, 0.45, 0.47, 0.49, 0.51, 0.53, 0.55, 0.57, 0.59, 0.61];
const wtPsiCounts = [0.2, 0.7, 1.8, 3.4, 4.9, 5.8, 5.9, 5.5, 4.8, 4.7, 3.4, 2.6, 1.5, 0.7, 0.3];
const kdPsiBins = [0.64, 0.66, 0.68, 0.70, 0.72, 0.74, 0.76, 0.78, 0.80, 0.82, 0.84, 0.86, 0.88, 0.90, 0.92];
const kdPsiCounts = [0.1, 0.3, 0.6, 1.2, 2.0, 2.9, 4.1, 5.5, 6.6, 6.7, 5.5, 3.5, 1.7, 0.6, 0.2];
const wtPsi = 0.46, wtPsiCI = [0.34, 0.59];
const kdPsi = 0.79, kdPsiCI = [0.67, 0.92];

// genome browser view, bp from 56,359,620
const transcriptNames = ['ZWINT-209', 'ZWINT-202', 'ZWINT-203', 'ZWINT-204', 'ZWINT-208'];
const transcriptCoding = [[], [[69, 234], [396, 517], [672, 762]], [[69, 234], [396, 517], [672, 762]], [[69, 234], [396, 517], [672, 762]], [[631, 762]]];
const transcriptNoncoding = [[[69, 780]], [], [], [], [[69, 631]]];
const trackBinStart = 5.4, trackBinWidth = 13.47;
const wtTrack = [0, 0, 0, 0, 86, 84, 80, 73, 68, 60, 38, 23, 13, 18, 25, 43, 55, 8, 8, 10, 8, 8, 12, 14, 14, 16, 16, 18, 20, 80, 82, 76, 65, 48, 35, 32, 28, 22, 18, 5, 3, 3, 2, 2, 3, 3, 4, 6, 12, 45, 46, 42, 38, 35, 30, 28, 38];
const kdTrack = [5, 5, 0, 0, 33, 38, 45, 58, 45, 35, 25, 18, 12, 18, 28, 45, 50, 25, 25, 35, 42, 48, 52, 55, 50, 48, 45, 40, 50, 58, 62, 68, 55, 40, 30, 20, 12, 10, 8, 5, 3, 0, 0, 0, 0, 0, 20, 22, 25, 25, 28, 28, 25, 25, 30, 28, 28];
const clipPeaks = [[262, 315], [356, 404]];
const clipColors = ['#6E8B4E', '#A8BA90'];
const highlightRegion = [234, 404];

// ======================================================================
Chart.defaults.font.family = "Lato, 'DejaVu Sans', sans-serif";
Chart.defaults.color = '#4D4D4D';
Chart.defaults.animation = false;
Chart.defaults.events = [];

const page = document.getElementById('page');
const GRID_MAJOR = '#E3E3E3', GRID_MINOR = '#F2F2F2', FRAME = '#B3B3B3';
const isMult = step => v => Math.abs(v / step - Math.round(v / step)) < 1e-6;
const P = a => { const r = []; for (let i = 0; i < a.length; i += 2) r.push({ x: a[i], y: a[i + 1] }); return r; };

// place a chart so that its plot area sits on area = [x0, y0, x1, y1]
function chartAt(area, m, cfg) {
  const [x0, y0, x1, y1] = area, [L, T, R, B] = m;
  const w = x1 - x0 + L + R, h = y1 - y0 + T + B;
  const cv = document.createElement('canvas');
  cv.width = w; cv.height = h;
  cv.style.cssText = `position:absolute;left:${x0 - L}px;top:${y0 - T}px;width:${w}px;height:${h}px`;
  page.appendChild(cv);
  const o = cfg.options = cfg.options || {};
  o.responsive = false; o.animation = false; o.devicePixelRatio = 1;
  const sc = o.scales;
  const xHidden = sc.x.display === false, yHidden = sc.y.display === false;
  o.layout = { padding: { left: yHidden ? L : 0, top: T, right: R, bottom: xHidden ? B : 0 } };
  if (!yHidden) sc.y.afterFit = s => { s.width = L; };
  if (!xHidden) sc.x.afterFit = s => { s.height = B; };
  o.plugins = Object.assign({ legend: { display: false }, tooltip: { enabled: false } }, o.plugins || {});
  return new Chart(cv, cfg);
}

function ggAxis(min, max, step, major, fmt, showLabels, size, extra) {
  return Object.assign({
    type: 'linear', min, max, offset: false,
    ticks: { stepSize: step, includeBounds: false, autoSkip: false, maxRotation: 0, display: showLabels, padding: 1,
      font: { size }, color: '#4D4D4D', callback: v => major(v) ? fmt(v) : '' },
    grid: { offset: false, color: c => (c.tick && major(c.tick.value)) ? GRID_MAJOR : GRID_MINOR, drawTicks: showLabels, tickLength: 3,
      tickColor: c => (c.tick && major(c.tick.value)) ? FRAME : 'rgba(0,0,0,0)' },
    border: { display: false }
  }, extra || {});
}

function seg(points, color, width, dash, order) {
  return { data: points, showLine: true, pointRadius: 0, borderColor: color, borderWidth: width, borderDash: dash || [], fill: false, order: order === undefined ? 3 : order };
}
function shape(points) {
  return { data: points, showLine: true, pointRadius: 0, borderColor: '#2B1A1A', borderWidth: 1.2, backgroundColor: '#EDF3FB', fill: 'shape', tension: 0.35, order: 9 };
}
function text(html, x, y, css, anchor) {
  const d = document.createElement('div');
  d.className = 'txt';
  d.innerHTML = html;
  d.style.left = x + 'px'; d.style.top = y + 'px';
  d.style.transform = anchor === 'c' ? 'translate(-50%,-50%)' : 'translateY(-50%)';
  if (css) d.style.cssText += css;
  page.appendChild(d);
  return d;
}
function strip(label, x0, y0, x1, y1, size) {
  const d = document.createElement('div');
  d.className = 'strip';
  d.style.cssText += `left:${x0}px;top:${y0}px;width:${x1 - x0}px;height:${y1 - y0}px` + (size ? `;font-size:${size}px` : '');
  d.textContent = label;
  page.appendChild(d);
}
function frame(x0, y0, x1, y1) {
  const d = document.createElement('div');
  d.className = 'frame';
  d.style.cssText += `left:${x0}px;top:${y0}px;width:${x1 - x0}px;height:${y1 - y0}px`;
  page.appendChild(d);
}
function letter(ch, x, y) {
  const d = document.createElement('div');
  d.className = 'letter'; d.textContent = ch;
  d.style.left = x + 'px'; d.style.top = y + 'px';
  page.appendChild(d);
}

// ---------------- Panel A (left violins) ----------------
function vOutline(center, nes, half) {
  const right = nes.map((y, i) => ({ x: center + half[i], y }));
  const left = nes.map((y, i) => ({ x: center - half[i], y })).reverse();
  return right.concat(left);
}
const leftDs = [
  { data: zcGoJitter.map((x, i) => ({ x, y: zcGoNes[i] })), pointRadius: 3.3, pointBackgroundColor: goColors, pointBorderColor: '#333', pointBorderWidth: 0.8, order: 0 },
  { data: tafGoJitter.map((x, i) => ({ x, y: tafGoNes[i] })), pointRadius: 3.3, pointBackgroundColor: goColors, pointBorderColor: '#333', pointBorderWidth: 0.8, order: 0 },
  seg([{ x: 1 - zcRbpNes[1], y: zcRbpNes[0] }, { x: 1 + zcRbpNes[1], y: zcRbpNes[0] }], '#F03B3B', 1.4, [], 2),
  seg([{ x: 2 - tafRbpNes[1], y: tafRbpNes[0] }, { x: 2 + tafRbpNes[1], y: tafRbpNes[0] }], '#F03B3B', 1.4, [], 2),
  shape(vOutline(1, zcViolinNes, zcViolinHalf)),
  shape(vOutline(2, tafViolinNes, tafViolinHalf))
];
zcQuantiles.forEach(([y, h]) => leftDs.push(seg([{ x: 1 - h, y }, { x: 1 + h, y }], '#222', 1, [4, 3], 3)));
tafQuantiles.forEach(([y, h]) => leftDs.push(seg([{ x: 2 - h, y }, { x: 2 + h, y }], '#222', 1, [4, 3], 3)));
chartAt([33, 5, 163, 218], [33, 6, 4, 14], {
  type: 'scatter', data: { datasets: leftDs },
  options: { scales: {
    x: { type: 'linear', min: 0.4, max: 2.6, offset: false, afterBuildTicks: s => { s.ticks = [{ value: 1 }, { value: 2 }]; },
      ticks: { callback: (v, i) => rbpNames[i], color: '#4D4D4D', font: { size: 10.5 }, padding: 1, maxRotation: 0, autoSkip: false },
      grid: { color: GRID_MAJOR, tickLength: 3, tickColor: FRAME }, border: { display: false } },
    y: ggAxis(-2.65, 2.68, 0.5, isMult(1), v => (v < 0 ? '\u2212' : '') + Math.abs(v), true, 11,
      { title: { display: true, text: 'GO term NES', color: '#000', font: { size: 13 }, padding: { top: 0, bottom: 3 } } })
  } }
});
frame(33, 5, 163, 218);

// ---------------- Panel A (facets) ----------------
const facetBodies = [[19, 75], [91, 147], [163, 218]];
const facetStrips = [[5, 19], [78, 91], [150, 163]];
facetTitles.forEach((title, i) => {
  const last = i === 2;
  const top = facetNes[i].map((x, k) => ({ x, y: facetHalf[i][k] }));
  const bot = facetNes[i].map((x, k) => ({ x, y: -facetHalf[i][k] })).reverse();
  const ds = [
    { data: [{ x: facetTafRbp[i][0], y: facetTafRbp[i][1] }], pointStyle: 'triangle', pointRadius: 6.5, pointBackgroundColor: '#F8766D', pointBorderColor: '#A8322C', pointBorderWidth: 0.8, order: 0 },
    { data: [{ x: facetZcRbp[i][0], y: facetZcRbp[i][1] }], pointStyle: 'triangle', rotation: 180, pointRadius: 6.5, pointBackgroundColor: '#00BFC4', pointBorderColor: '#0B6F72', pointBorderWidth: 0.8, order: 0 },
    { data: P(facetTermNes[i]), pointRadius: 2, pointBackgroundColor: 'rgba(255,255,255,0.3)', pointBorderColor: '#222', pointBorderWidth: 0.7, order: 1 },
    shape(top.concat(bot))
  ];
  facetMedians[i].forEach(([x, h]) => ds.push(seg([{ x, y: -h }, { x, y: h }], '#222', 1, [3, 2], 3)));
  chartAt([171, facetBodies[i][0], 538, facetBodies[i][1]], [0, 0, 3, last ? 26 : 0], {
    type: 'scatter', data: { datasets: ds },
    options: { scales: {
      x: ggAxis(-3.7, 3.8, 1, isMult(2), v => (v < 0 ? '\u2212' : '') + Math.abs(v), last, 10.5,
        last ? { title: { display: true, text: 'RBP NES', color: '#000', font: { size: 12 }, padding: { top: 1, bottom: 0 } } } : {}),
      y: { type: 'linear', min: -1, max: 1, afterBuildTicks: s => { s.ticks = [{ value: 0 }]; }, ticks: { display: false },
        grid: { color: GRID_MAJOR, drawTicks: false }, border: { display: false } }
    } }
  });
  strip(title, 171, facetStrips[i][0], 538, facetStrips[i][1], 12.5);
  frame(171, facetBodies[i][0] - 1, 538, facetBodies[i][1]);
});

// legend of panel A
const dot = c => `<span style="display:inline-block;width:5px;height:5px;border-radius:50%;background:${c};border:0.5px solid #333;margin-right:3px;vertical-align:middle"></span>`;
text('ZC3H11A GO terms', 551, 23, 'font-size:10.5px');
zcGoTerms.forEach((t, i) => text(dot(goColors[i]) + t, 547, 37 + i * 11.4, 'font-size:9.9px'));
text('TAF15 GO terms', 551, 103, 'font-size:10.5px');
tafGoTerms.forEach((t, i) => text(dot(goColors[i]) + t, 547, 118 + i * 11.8, 'font-size:9.9px'));
text('RBP', 551, 184, 'font-size:10.5px');
const triUp = document.createElement('div'); triUp.className = 'tri';
triUp.style.cssText += 'left:550px;top:193px;border-bottom:9px solid #F8766D';
page.appendChild(triUp);
const triDown = document.createElement('div'); triDown.className = 'tri';
triDown.style.cssText += 'left:550px;top:205px;border-top:9px solid #00BFC4';
page.appendChild(triDown);
text('TAF15', 565, 198, 'font-size:9.9px');
text('ZC3H11A', 565, 209, 'font-size:9.9px');

// ---------------- Volcano panels ----------------
function volcano(area, m, o) {
  const r = o.main ? 4.6 : 2.9;
  const xr = [-0.9, 0.9], yr = o.main ? [-2.3, 12.7] : [-2.2, 12.8];
  const ds = [];
  if (o.hi) ds.push({ data: P(o.hi), pointRadius: r + 1.4, pointBackgroundColor: '#8B0000', pointBorderColor: '#220000', pointBorderWidth: 1, order: 0 });
  (o.leaders || []).forEach(l => ds.push(seg(P(l), '#222', 0.8, [], 1)));
  ds.push(seg([{ x: -0.2, y: yr[0] }, { x: -0.2, y: yr[1] }], '#6E6E6E', 1, [4, 3], 2));
  ds.push(seg([{ x: 0.2, y: yr[0] }, { x: 0.2, y: yr[1] }], '#6E6E6E', 1, [4, 3], 2));
  ds.push(seg([{ x: xr[0], y: 1 }, { x: xr[1], y: 1 }], '#6E6E6E', 1, [4, 3], 2));
  ds.push({ data: P(o.pink), pointRadius: r, pointBackgroundColor: 'rgba(255,178,192,0.82)', pointBorderColor: 'rgba(232,104,124,0.85)', pointBorderWidth: 0.7, order: 4 });
  ds.push({ data: P(o.gray), pointRadius: r, pointBackgroundColor: 'rgba(140,140,140,0.8)', pointBorderColor: 'rgba(75,75,75,0.85)', pointBorderWidth: 0.7, order: 5 });
  const fs = o.main ? 11.5 : 10;
  return chartAt(area, m, {
    type: 'scatter', data: { datasets: ds },
    options: { scales: {
      x: ggAxis(xr[0], xr[1], 0.25, isMult(0.5), v => v.toFixed(1), !!o.showX, fs,
        o.main ? { title: { display: true, text: '\u0394\u03A8', color: '#000', font: { size: 13 }, padding: { top: 0, bottom: 0 } } } : {}),
      y: ggAxis(yr[0], yr[1], 2, isMult(4), v => String(v), !!o.showY, fs,
        o.main ? { title: { display: true, text: 'log\u2081\u2080(Bayes factor)', color: '#000', font: { size: 13 }, padding: { top: 0, bottom: 3 } } } : {})
    } }
  });
}
function volcanoBlock(y0, mainName, main, smalls) {
  const mb = [y0 + 13, y0 + 188];
  strip(mainName, 33, y0, 241, y0 + 13, 11.5);
  volcano([33, mb[0], 241, mb[1]], [33, 6, 2, 26], Object.assign({ main: true, showX: true, showY: true }, main));
  frame(33, mb[0] - 1, 241, mb[1]);
  main.labels.forEach(([name, x, y]) => {
    const px = 33 + (x + 0.9) / 1.8 * 208, py = mb[0] + (12.7 - y) / 15 * (mb[1] - mb[0]);
    text(name, px, py, 'font-size:12px;font-style:italic', 'c');
  });
  const cols = [[256, 359], [362, 464]];
  const rows = [[y0, y0 + 13, y0 + 93], [y0 + 94, y0 + 106, y0 + 188]];
  smalls.forEach((sp, k) => {
    const c = cols[k % 2], rr = rows[Math.floor(k / 2)];
    const showY = k % 2 === 0, showX = k >= 2;
    strip(sp.name, c[0], rr[0], c[1], rr[1], 11.5);
    volcano([c[0], rr[1], c[1], rr[2]], [showY ? 16 : 0, 4, 2, showX ? 14 : 0], { gray: sp.gray, pink: sp.pink, showX, showY });
    frame(c[0], rr[1] - 1, c[1], rr[2]);
  });
}
volcanoBlock(264, 'SE', { gray: zcSeGray, pink: zcSePink, hi: zcSeHighlight, labels: zcSeLabels, leaders: zcSeLeaders }, [
  { name: 'A3SS', gray: zcA3Gray, pink: zcA3Pink }, { name: 'A5SS', gray: zcA5Gray, pink: zcA5Pink },
  { name: 'MXE', gray: zcMxeGray, pink: zcMxePink }, { name: 'RI', gray: zcRiGray, pink: zcRiPink }]);
volcanoBlock(497, 'RI', { gray: tafRiGray, pink: tafRiPink, hi: tafRiHighlight, labels: tafRiLabels, leaders: tafRiLeaders }, [
  { name: 'A3SS', gray: tafA3Gray, pink: tafA3Pink }, { name: 'A5SS', gray: tafA5Gray, pink: tafA5Pink },
  { name: 'MXE', gray: tafMxeGray, pink: tafMxePink }, { name: 'SE', gray: tafSeGray, pink: tafSePink }]);

// ---------------- Bar panels C / E ----------------
function barPanel(area, m, o) {
  const [capL, top, capR] = o.bracket;
  const red = '#F0474F';
  const ds = [
    seg([{ x: 1, y: capL }, { x: 1, y: top }, { x: 2, y: top }, { x: 2, y: capR }], red, 1, [3, 2], 0),
    seg([{ x: 0.94, y: capL }, { x: 1.06, y: capL }], red, 1.2, [], 0),
    seg([{ x: 1.94, y: capR }, { x: 2.06, y: capR }], red, 1.2, [], 0),
    { type: 'scatter', data: P(o.ctrl.concat(o.kd)), pointRadius: 6.5, pointBackgroundColor: '#A3A3A3', pointBorderColor: '#4A4A4A', pointBorderWidth: 1, order: 1 },
    { type: 'bar', data: o.bars.map((y, i) => ({ x: i + 1, y })), backgroundColor: '#D4D4D4', borderColor: '#3A3A3A', borderWidth: 1.2,
      barPercentage: o.barPct, categoryPercentage: 1, order: 5 }
  ];
  ds.slice(0, 3).forEach(d => { d.type = 'scatter'; });
  return chartAt(area, m, {
    type: 'bar', data: { datasets: ds },
    options: { scales: {
      x: { type: 'linear', min: o.xr[0], max: o.xr[1], offset: false, afterBuildTicks: s => { s.ticks = [{ value: 1 }, { value: 2 }]; },
        ticks: { callback: (v, i) => o.labels[i], color: '#4D4D4D', font: { size: 10.5 }, padding: 1, maxRotation: 0, autoSkip: false },
        grid: { offset: false, color: GRID_MAJOR, tickLength: 3, tickColor: FRAME }, border: { display: false } },
      y: ggAxis(o.yr[0], o.yr[1], o.step, isMult(o.major), o.fmt, true, 10.5,
        o.title ? { title: { display: true, text: 'L/S isoforms expression ratio', color: '#000', font: { size: 12.5 }, padding: { top: 0, bottom: 2 } } } : {})
    } }
  });
}
letter('C', 483, 244);
text('WARS1', 519, 274, 'font-size:13.5px;font-style:italic;color:#000');
text('ASPM', 638, 274, 'font-size:13.5px;font-style:italic;color:#000');
barPanel([519, 283, 625, 452], [31, 4, 3, 14], { xr: [0.46, 2.58], yr: [-0.07, 1.37], step: 0.25, major: 0.5, fmt: v => v.toFixed(1), bars: wars1Bars, ctrl: wars1Ctrl, kd: wars1Kd, bracket: wars1Bracket, barPct: 0.96, labels: ['CTRL', 'ZC3H11A-KD'], title: true });
barPanel([638, 283, 752, 452], [14, 4, 8, 14], { xr: [0.38, 2.59], yr: [-0.33, 6.8], step: 1, major: 2, fmt: v => String(v), bars: aspmBars, ctrl: aspmCtrl, kd: aspmKd, bracket: aspmBracket, barPct: 0.9, labels: ['CTRL', 'ZC3H11A-KD'] });
frame(519, 283, 625, 452); frame(638, 283, 752, 452);
text('<i>p</i> &lt; 0.02', 572, 297, 'font-size:13px;color:#000', 'c');
text('<i>p</i> &lt; 3\u00B710<sup style="font-size:9px">\u22124</sup>', 695, 294, 'font-size:13px;color:#000', 'c');

letter('E', 483, 479);
text('CDC37', 512, 507, 'font-size:13.5px;font-style:italic;color:#000');
text('ZWINT', 640, 507, 'font-size:13.5px;font-style:italic;color:#000');
barPanel([512, 515, 625, 685], [24, 4, 3, 14], { xr: [0.42, 2.6], yr: [-0.24, 4.94], step: 0.5, major: 1, fmt: v => String(v), bars: cdc37Bars, ctrl: cdc37Ctrl, kd: cdc37Kd, bracket: cdc37Bracket, barPct: 0.92, labels: ['CTRL', 'TAF15-KD'], title: true });
barPanel([640, 516, 753, 685], [14, 4, 8, 14], { xr: [0.42, 2.6], yr: [-0.26, 5.33], step: 0.5, major: 1, fmt: v => String(v), bars: zwintBars, ctrl: zwintCtrl, kd: zwintKd, bracket: zwintBracket, barPct: 0.9, labels: ['CTRL', 'TAF15-KD'] });
frame(512, 515, 625, 685); frame(640, 516, 753, 685);
text('<i>p</i> &lt; 10<sup style="font-size:9px">\u22124</sup>', 568, 530, 'font-size:13px;color:#000', 'c');
text('<i>p</i> &lt; 3\u00B710<sup style="font-size:9px">\u22124</sup>', 695, 533, 'font-size:13px;color:#000', 'c');

// ---------------- Panel F ----------------
function coverage(area, pos, val, jPos, jVal, fillColor, arcColor) {
  const cov = pos.map((x, i) => ({ x, y: val[i] }));
  const arc = jPos.map((x, i) => (x === null ? { x: null, y: null } : { x, y: jVal[i] }));
  return chartAt(area, [53, 8, 4, 0], {
    type: 'scatter',
    data: { datasets: [
      { data: arc, showLine: true, pointRadius: 0, borderColor: arcColor, borderWidth: 4, tension: 0.4, spanGaps: false, fill: false, order: 0 },
      { data: cov, showLine: true, pointRadius: 0, borderWidth: 0, borderColor: fillColor, backgroundColor: fillColor, fill: 'origin', order: 1 }
    ] },
    options: { scales: {
      x: { type: 'linear', min: 0, max: 460, display: false },
      y: { type: 'linear', min: 0, max: 150, afterBuildTicks: s => { s.ticks = [0, 50, 100, 150].map(v => ({ value: v })); },
        ticks: { autoSkip: false, callback: v => (v === 0 ? '' : String(v)), color: '#000', font: { size: 11.5 }, padding: 2 },
        grid: { drawOnChartArea: false, tickLength: 4, tickColor: '#000' }, border: { color: '#000', width: 1 },
        title: { display: true, text: 'RPKM', color: '#000', font: { size: 11 }, padding: { top: 0, bottom: 0 } } }
    } }
  });
}
letter('F', 1, 723);
text('TAF15, <i>ZWINT</i> alternative splicing', 33, 735, 'font-size:11.5px;color:#000');
coverage([53, 765, 390, 818], wtCovPos, wtCovVal, wtJunctionPos, wtJunctionVal, '#CD6B6B', '#C96262');
coverage([53, 859, 390, 912], kdCovPos, kdCovVal, kdJunctionPos, kdJunctionVal, '#F4908E', '#F3A3A3');
text('WT', 66, 768, 'font-size:12.5px;color:#000');
text('TAF15-KD', 66, 862, 'font-size:12.5px;color:#000');
text(junctionReads[0], 233, 779, 'font-size:11.5px;color:#000', 'c');
text(junctionReads[1], 233, 871, 'font-size:11.5px;color:#000', 'c');

chartAt([53, 944, 390, 945], [30, 0, 30, 34], {
  type: 'scatter', data: { datasets: [] },
  options: { scales: {
    x: { type: 'linear', min: 0, max: 460, afterBuildTicks: s => { s.ticks = genomicTicks.map(v => ({ value: v })); },
      ticks: { callback: v => String(genomicStart + v), color: '#000', font: { size: 11.5 }, padding: 1, maxRotation: 0 },
      grid: { drawOnChartArea: false, tickLength: 6, tickColor: '#000', tickWidth: 1.2 }, border: { color: '#000', width: 1.5 },
      title: { display: true, text: 'Genomic coordinate (chr10)', color: '#000', font: { size: 11 }, padding: { top: 3, bottom: 0 } } },
    y: { display: false, min: 0, max: 1 }
  } }
});

function misoHist(area, m, bins, counts, psi, ci, yMax, yTicks, showX) {
  return chartAt(area, m, {
    type: 'bar',
    data: { datasets: [
      { type: 'scatter', data: [{ x: psi, y: 0 }, { x: psi, y: yMax }], showLine: true, pointRadius: 0, borderColor: '#F00000', borderWidth: 3, order: 0 },
      { type: 'scatter', data: [{ x: ci[0], y: 0 }, { x: ci[0], y: yMax }], showLine: true, pointRadius: 0, borderColor: '#C8C8C8', borderWidth: 0.8, borderDash: [1, 1], order: 2 },
      { type: 'scatter', data: [{ x: ci[1], y: 0 }, { x: ci[1], y: yMax }], showLine: true, pointRadius: 0, borderColor: '#C8C8C8', borderWidth: 0.8, borderDash: [1, 1], order: 2 },
      { type: 'bar', data: bins.map((x, i) => ({ x, y: counts[i] })), backgroundColor: '#262626', borderWidth: 0, barPercentage: 0.8, categoryPercentage: 1, order: 1 }
    ] },
    options: { scales: {
      x: { type: 'linear', min: -0.065, max: 1.0, offset: false, afterBuildTicks: s => { s.ticks = [0, 0.2, 0.4, 0.6, 0.8, 1].map(v => ({ value: v })); },
        ticks: { display: showX, callback: v => ([0, 0.4, 0.8, 1].some(t => Math.abs(t - v) < 1e-6) ? String(v) : ''), color: '#000', font: { size: 11.5 }, padding: 1, maxRotation: 0, autoSkip: false },
        grid: { offset: false, drawOnChartArea: false, tickLength: 4, tickColor: '#000' }, border: { color: '#000', width: 1 },
        title: { display: showX, text: 'MISO \u03A8', color: '#000', font: { size: 11.5 }, padding: { top: 1, bottom: 0 } } },
      y: { type: 'linear', min: 0, max: yMax, afterBuildTicks: s => { s.ticks = yTicks.map(v => ({ value: v })); },
        ticks: { autoSkip: false, callback: v => String(Math.round(v)), color: '#000', font: { size: 11.5 }, padding: 2 },
        grid: { drawOnChartArea: false, tickLength: 4, tickColor: '#000' }, border: { color: '#000', width: 1 } }
    } }
  });
}
misoHist([422, 761, 510, 819], [22, 8, 6, 5], wtPsiBins, wtPsiCounts, wtPsi, wtPsiCI, 9, [0, 3, 6, 9], false);
misoHist([422, 854, 510, 912], [22, 8, 6, 30], kdPsiBins, kdPsiCounts, kdPsi, kdPsiCI, 10, [0, 10 / 3, 20 / 3, 10], true);
text('\u03A8 = &nbsp;0.46', 465, 751, 'font-size:11.5px;color:#000', 'c');
text('\u03A8 = &nbsp;0.79', 465, 844, 'font-size:11.5px;color:#000', 'c');

// genome browser
const trackGrid = { color: '#BCD2EC', drawTicks: false, offset: false };
const trackX = { type: 'linear', position: 'top', min: 0, max: 800, offset: false, ticks: { display: false, stepSize: 88, includeBounds: false }, grid: trackGrid, border: { display: false, dash: [1, 2] } };
const rowY = [17, 37, 56, 75, 94];
const trDs = [
  { type: 'scatter', data: [{ x: 0, y: -6 }, { x: 800, y: -6 }], showLine: true, borderColor: '#000', borderWidth: 1.2, pointStyle: 'triangle', rotation: [-90, 90], pointRadius: 3.2, pointBackgroundColor: '#000', clip: false, order: 0 }
];
transcriptNames.forEach((n, i) => {
  trDs.push({ type: 'scatter', data: [{ x: 0, y: rowY[i] }, { x: 800, y: rowY[i] }], showLine: true, pointRadius: 0, borderColor: '#333', borderWidth: 1, order: 3 });
  transcriptNoncoding[i].forEach(([s, e]) => trDs.push({ type: 'bar', indexAxis: 'y', grouped: false, data: [{ y: rowY[i], x: [s, e] }], barThickness: 3, backgroundColor: '#707070', order: 2 }));
  transcriptCoding[i].forEach(([s, e]) => trDs.push({ type: 'bar', indexAxis: 'y', grouped: false, data: [{ y: rowY[i], x: [s, e] }], barThickness: 5.5, backgroundColor: '#1E1E1E', order: 1 }));
});
chartAt([547, 760, 745, 858], [0, 0, 0, 0], {
  type: 'scatter', data: { datasets: trDs },
  options: { scales: { x: Object.assign({}, trackX, { grid: trackGrid }), y: { type: 'linear', reverse: true, min: 0, max: 98, display: false, offset: false, grid: { offset: false } } } }
});
text('chr10: 56,359,620 - 56,360,420 (+)', 647, 740, 'font-size:12px;color:#000', 'c');
text('800 bp', 647, 754, 'font-size:6px;color:#000;background:#fff;padding:0 2px', 'c');
transcriptNames.forEach((n, i) => text(n, 647, 760 + rowY[i] - 9, 'font-size:10px;color:#000', 'c'));

function boxLines(yMin, yMax, withTop, withBottom) {
  const c = '#3A3A3A';
  const line = pts => ({ type: 'scatter', data: pts, showLine: true, pointRadius: 0, borderColor: c, borderWidth: 1, clip: false, order: 0 });
  const d = [
    line([{ x: highlightRegion[0], y: yMin }, { x: highlightRegion[0], y: yMax }]),
    line([{ x: highlightRegion[1], y: yMin }, { x: highlightRegion[1], y: yMax }])
  ];
  if (withTop) d.push(line([{ x: highlightRegion[0], y: yMax }, { x: highlightRegion[1], y: yMax }]));
  if (withBottom) d.push(line([{ x: highlightRegion[0], y: yMin }, { x: highlightRegion[1], y: yMin }]));
  return d;
}
function trackCov(area, vals, color, withTop) {
  const ds = boxLines(0, 100, withTop, false);
  ds.push({ type: 'bar', grouped: false, data: vals.map((y, i) => ({ x: trackBinStart + i * trackBinWidth, y })), backgroundColor: color, barPercentage: 0.85, categoryPercentage: 1, order: 2 });
  return chartAt(area, [0, 0, 0, 0], {
    type: 'bar', data: { datasets: ds },
    options: { scales: { x: Object.assign({}, trackX, { border: { display: true, color: '#C8C8C8', width: 1, dash: [1, 2] } }), y: { type: 'linear', min: 0, max: 100, display: false } } }
  });
}
trackCov([547, 859, 745, 893], wtTrack, '#C96464', true);
trackCov([547, 894, 745, 929], kdTrack, '#F29A9A', false);
const clipDs = boxLines(0, 1, false, true);
clipPeaks.forEach((pk, i) => clipDs.push({ type: 'bar', indexAxis: 'y', grouped: false, data: [{ y: 0.33, x: pk }], barThickness: 14, backgroundColor: clipColors[i], order: 2 }));
chartAt([547, 929, 745, 955], [0, 0, 0, 0], {
  type: 'scatter', data: { datasets: clipDs },
  options: { scales: { x: Object.assign({}, trackX, { border: { display: true, color: '#C8C8C8', width: 1, dash: [1, 2] } }), y: { type: 'linear', min: 0, max: 1, display: false, offset: false, grid: { offset: false } } } }
});
text('WT', 662, 868, 'font-size:11.5px;color:#000');
text('TAF15-KD', 662, 904, 'font-size:11.5px;color:#000');
text('TAF15 CLIP-seq', 662, 940, 'font-size:11.5px;color:#000');

// panel letters and sub-titles
letter('A', 1, 2);
letter('B', 0, 247);
letter('D', 0, 479);
text('ZC3H11A', 33, 257, 'font-size:13px;color:#000');
text('TAF15', 33, 489, 'font-size:13px;color:#000');
</script>
</body>
</html>
